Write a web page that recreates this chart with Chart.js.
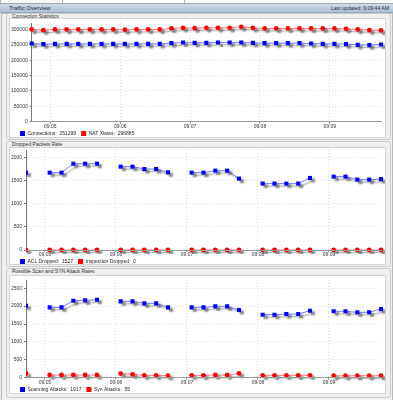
<!DOCTYPE html>
<html>
<head>
<meta charset="utf-8">
<script src="https://cdn.jsdelivr.net/npm/chart.js@4/dist/chart.umd.min.js"></script>
<style>
  html,body{margin:0;padding:0;}
  body{width:393px;height:400px;background:#eeeeee;position:relative;overflow:hidden;font-family:"Liberation Sans",Arial,sans-serif;}
  #tabs{position:absolute;left:0;top:0;width:393px;height:3px;background:#f8f8f8;border-bottom:1px solid #a9a9a9;}
  .tab{position:absolute;top:0;height:3px;border-left:1px solid #b5b5b5;border-right:1px solid #b5b5b5;}
  #hdr{position:absolute;left:0;top:4px;width:393px;height:8px;background:linear-gradient(#cfdbe8,#aebfd4);border-bottom:1px solid #97a9bf;color:#1d2b3b;font-size:5.8px;line-height:8px;}
  #hdr .l{position:absolute;left:9px;top:0;}
  #hdr .r{position:absolute;right:4px;top:0;font-size:5.1px;}
  #outer{position:absolute;left:1px;top:13px;width:390px;height:390px;border:1px solid #b9b9b9;background:#f0f0f0;}
  .panel{position:absolute;left:6px;width:383px;border:1px solid #c9c9c9;border-radius:3px;background:#efefef;}
  .ttl{position:absolute;left:5px;top:-1px;font-size:5px;line-height:6px;color:#2b2b2b;}
  .box{position:absolute;left:9px;width:375px;background:#fff;border:1px solid #d4d4d4;overflow:hidden;}
  .box canvas{position:absolute;left:0;}
</style>
</head>
<body>
<div id="tabs"><div class="tab" style="left:0;width:61px"></div><div class="tab" style="left:62px;width:121px;background:#fff"></div></div>
<div id="hdr"><span class="l">Traffic Overview</span><span class="r">Last updated: 9:09:44 AM</span></div>
<div id="outer"></div>

<div class="panel" style="top:13px;height:125px"><div class="ttl">Connection Statistics</div></div>
<div class="box" style="top:18px;height:118px"><canvas id="c1" width="375" height="128" style="top:-1px"></canvas></div>

<div class="panel" style="top:141px;height:124px"><div class="ttl">Dropped Packets Rate</div></div>
<div class="box" style="top:147px;height:116px"><canvas id="c2" width="375" height="129" style="top:-3px"></canvas></div>

<div class="panel" style="top:268px;height:128px"><div class="ttl">Possible Scan and SYN Attack Rates</div></div>
<div class="box" style="top:275px;height:117px"><canvas id="c3" width="375" height="127" style="top:-1px"></canvas></div>

<script>
// ---- data ----
const timeLabels = ["09:04:44","09:04:54","09:05:04","09:05:14","09:05:24","09:05:34","09:05:44","09:05:54",
  "09:06:04","09:06:14","09:06:24","09:06:34","09:06:44","09:06:54","09:07:04","09:07:14","09:07:24","09:07:34",
  "09:07:44","09:07:54","09:08:04","09:08:14","09:08:24","09:08:34","09:08:44","09:08:54","09:09:04","09:09:14",
  "09:09:24","09:09:34","09:09:44"];
const minuteTicks = ["09:05","09:06","09:07","09:08","09:09"];
const windowStart = "09:04:44";
const windowEnd = "09:09:44";

const connections = [254300,252200,253200,253200,253000,253200,253200,253200,253000,253200,253200,253200,255400,257500,256500,
  256500,257500,257500,257500,256500,255400,255400,255400,255400,254300,253200,253200,252200,250000,249000,251299];
const natXlates = [300000,297800,300000,300000,300000,300000,300000,300000,299000,300000,300000,300000,303200,305400,304300,
  305400,305400,305400,308600,305400,303200,303200,303200,303200,303200,303200,303200,302100,300000,297800,296885];

const aclDropped = [1667,null,1667,1667,1860,1860,1860,null,1796,1796,1745,1745,1674,null,1667,1667,1710,1710,1538,null,
  1431,1431,1431,1431,1552,null,1581,1581,1517,1517,1527];
const inspectionDropped = [0,null,0,0,0,0,0,null,0,0,0,0,0,null,0,0,0,0,0,null,0,0,0,0,0,null,0,0,0,0,0];

const scanningAttacks = [2011,null,1966,1966,2151,2160,2179,null,2134,2134,2078,2078,1966,null,1966,1966,1994,1994,1891,null,
  1760,1760,1778,1778,1871,null,1855,1855,1827,1827,1917];
const synAttacks = [120,null,75,75,75,75,75,null,115,95,65,65,55,null,65,65,75,75,120,null,65,65,65,65,65,null,55,55,55,55,55];

const yTicks1 = [0,50000,100000,150000,200000,250000,300000];
const yTicks2 = [0,500,1000,1500,2000];
const yTicks3 = [0,500,1000,1500,2000,2500];

// ---- helpers ----
function toSec(t){const p=t.split(':').map(Number);return p[0]*3600+p[1]*60+(p[2]||0);}
function pts(vals){return vals.map((v,i)=>({x:toSec(timeLabels[i]),y:v}));}
const FONT = '"Liberation Sans", Arial, sans-serif';

const shadowPlugin = {
  id:'dropShadow',
  beforeDatasetDraw(chart){const c=chart.ctx;c.save();c.shadowColor='rgba(60,60,60,0.55)';c.shadowBlur=1.5;c.shadowOffsetX=3;c.shadowOffsetY=2.5;},
  afterDatasetDraw(chart){chart.ctx.restore();}
};
// let tick labels use the whole canvas instead of being clipped to the (narrow) axis boxes
const labelRoomPlugin = {
  id:'labelRoom',
  afterLayout(chart){chart.scales.y.left = 0; chart.scales.x.bottom = chart.height;}
};

function makeChart(id, series, yTicks, yMax, geom){
  const datasets = series.map(s=>({
    label:s.name, data:pts(s.values), spanGaps:false,
    borderColor:s.line, borderWidth:1,
    pointStyle:s.style, pointRadius:s.style==='rect'?2.9:2.4,
    pointBackgroundColor:s.color, pointBorderColor:s.color, pointBorderWidth:0,
    clip:{left:geom.clipLeft, right:4, top:4, bottom:4},
    legendValue:s.values[s.values.length-1], legendColor:s.color
  }));
  return new Chart(document.getElementById(id), {
    type:'line',
    data:{datasets},
    plugins:[shadowPlugin, labelRoomPlugin],
    options:{
      responsive:false, animation:false, devicePixelRatio:1,
      layout:{padding:{left:5,right:1.3,top:5,bottom:0}},
      plugins:{
        tooltip:{enabled:false},
        legend:{
          display:true, position:'bottom', align:'start',
          labels:{
            boxWidth:5, boxHeight:5, padding:5, color:'#1e1e1e',
            font:{size:5, family:FONT},
            generateLabels:(chart)=>chart.data.datasets.map((d,i)=>({
              text:d.label+':  '+d.legendValue, fillStyle:d.legendColor, strokeStyle:d.legendColor,
              lineWidth:0, hidden:false, datasetIndex:i, fontColor:'#1e1e1e'
            }))
          }
        }
      },
      scales:{
        x:{
          type:'linear', min:toSec(windowStart), max:toSec(windowEnd),
          afterBuildTicks:(s)=>{s.ticks=minuteTicks.map(m=>({value:toSec(m)}));},
          afterFit:(s)=>{s.height=geom.xh;},
          ticks:{callback:(v,i)=>minuteTicks[i], font:{size:5,family:FONT,lineHeight:1}, color:'#333', padding:0.5, maxRotation:0, autoSkip:false},
          grid:{color:'#dcdcdc', tickColor:'#888', tickLength:2, drawTicks:true},
          border:{display:true, color:'#9a9a9a', width:1, dash:[1,2], z:1}
        },
        y:{
          type:'linear', min:0, max:yMax,
          afterBuildTicks:(s)=>{s.ticks=yTicks.map(v=>({value:v}));},
          afterFit:(s)=>{s.width=geom.yw;},
          ticks:{callback:(v)=>String(v), font:{size:5,family:FONT,lineHeight:0.8}, color:'#333', padding:2, autoSkip:false},
          grid:{color:'#e2e2e2', tickColor:'#777', tickLength:2},
          border:{display:true, color:'#777', width:1, dash:[1,2]}
        }
      }
    }
  });
}

makeChart('c1', [
  {name:'Connections', values:connections, color:'#0000ff', line:'#7d7dff', style:'rect'},
  {name:'NAT Xlates', values:natXlates, color:'#ff0000', line:'#ff8080', style:'circle'}
], yTicks1, 321000, {yw:16.7, xh:4.3, clipLeft:4});

makeChart('c2', [
  {name:'ACL Dropped', values:aclDropped, color:'#0000ff', line:'#7d7dff', style:'rect'},
  {name:'Inspection Dropped', values:inspectionDropped, color:'#ff0000', line:'#ff8080', style:'circle'}
], yTicks2, 2155, {yw:11, xh:4, clipLeft:0});

makeChart('c3', [
  {name:'Scanning Attacks', values:scanningAttacks, color:'#0000ff', line:'#7d7dff', style:'rect'},
  {name:'Syn Attacks', values:synAttacks, color:'#ff0000', line:'#ff8080', style:'circle'}
], yTicks3, 2730, {yw:11, xh:4.3, clipLeft:0});
</script>
</body>
</html>
